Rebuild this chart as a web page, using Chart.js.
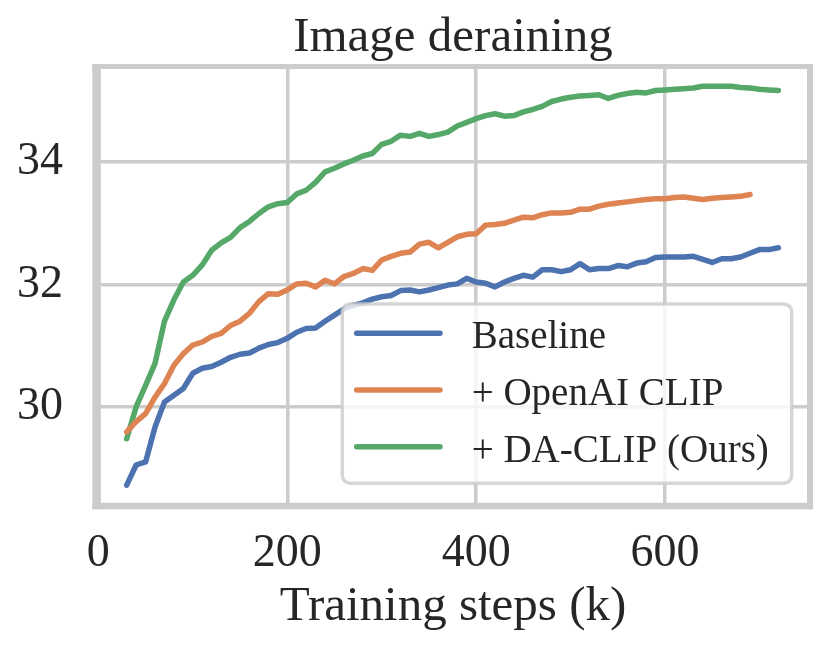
<!DOCTYPE html>
<html><head><meta charset="utf-8">
<script src="https://cdn.jsdelivr.net/npm/chart.js@4.4.1/dist/chart.umd.min.js"></script>
<style>html,body{margin:0;padding:0;background:#fff;} canvas{display:block}</style>
</head><body>
<canvas id="c" width="829" height="651"></canvas>
<script>
const steps = [30,40,50,60,70,80,90,100,110,120,130,140,150,160,170,180,190,200,210,220,230,240,250,260,270,280,290,300,310,320,330,340,350,360,370,380,390,400,410,420,430,440,450,460,470,480,490,500,510,520,530,540,550,560,570,580,590,600,610,620,630,640,650,660,670,680,690,700,710,720];
const baseline = [28.72,29.05,29.10,29.67,30.08,30.19,30.30,30.55,30.63,30.66,30.73,30.81,30.86,30.88,30.96,31.02,31.05,31.12,31.22,31.28,31.29,31.40,31.50,31.60,31.66,31.70,31.76,31.80,31.82,31.90,31.91,31.88,31.91,31.95,31.99,32.01,32.10,32.04,32.02,31.96,32.04,32.10,32.15,32.12,32.24,32.24,32.21,32.24,32.34,32.24,32.26,32.26,32.31,32.29,32.35,32.37,32.44,32.45,32.45,32.45,32.46,32.41,32.36,32.42,32.42,32.45,32.51,32.57,32.57,32.60];
const openaiClip = [29.59,29.76,29.89,30.16,30.38,30.68,30.87,31.01,31.06,31.15,31.20,31.33,31.40,31.53,31.72,31.85,31.84,31.91,32.01,32.02,31.96,32.07,32.01,32.13,32.18,32.26,32.23,32.40,32.46,32.51,32.53,32.66,32.69,32.60,32.69,32.78,32.82,32.83,32.97,32.98,33.00,33.05,33.10,33.09,33.14,33.17,33.17,33.18,33.23,33.23,33.28,33.31,33.33,33.35,33.37,33.39,33.40,33.40,33.42,33.43,33.41,33.39,33.41,33.42,33.43,33.44,33.47];
const daClip = [29.48,30.00,30.35,30.71,31.40,31.75,32.04,32.15,32.32,32.56,32.68,32.77,32.93,33.03,33.16,33.27,33.32,33.34,33.48,33.54,33.67,33.84,33.90,33.97,34.03,34.10,34.14,34.29,34.34,34.44,34.42,34.47,34.42,34.45,34.49,34.59,34.65,34.71,34.76,34.79,34.75,34.76,34.82,34.86,34.91,34.99,35.03,35.06,35.08,35.09,35.10,35.04,35.09,35.12,35.14,35.13,35.17,35.18,35.19,35.20,35.21,35.24,35.24,35.24,35.24,35.22,35.21,35.19,35.18,35.17];
const seriesLabels = ['Baseline', '+ OpenAI CLIP', '+ DA-CLIP (Ours)'];
const seriesColors = ['#4C72B0', '#DD8452', '#55A868'];
const xTicks = [0, 200, 400, 600];
const yTicks = [30, 32, 34];
const titleText = 'Image deraining';
const xTitle = 'Training steps (k)';

const FONT = "'Liberation Serif','Times New Roman',serif";
Chart.defaults.font.family = FONT;
Chart.defaults.color = '#262626';

function toPoints(vals) { return vals.map((v, i) => ({x: steps[i], y: v})); }
const seriesValues = [baseline, openaiClip, daClip];

const framePlugin = {
  id: 'frame',
  beforeDatasetsDraw(chart) {
    const {ctx, chartArea: a} = chart;
    ctx.save();
    ctx.fillStyle = '#cccccc';
    ctx.fillRect(a.left - 3.7, a.top - 2, 8.4, a.bottom - a.top + 5.3);   // left
    ctx.fillRect(a.left - 3.7, a.top - 2, a.right - a.left + 6.7, 5);     // top
    ctx.fillRect(a.left - 3.7, a.bottom - 3.3, a.right - a.left + 6.7, 6.6); // bottom
    ctx.fillRect(a.right - 3, a.top - 2, 6, a.bottom - a.top + 5.3);      // right
    ctx.restore();
  }
};

const legendPlugin = {
  id: 'boxLegend',
  afterDatasetsDraw(chart) {
    const {ctx, chartArea: a} = chart;
    const w = 449.4, h = 179.3;
    const x1 = a.right - 18.3, y1 = a.bottom - 22.7;
    const x0 = x1 - w, y0 = y1 - h;
    const r = 8;
    ctx.save();
    ctx.beginPath();
    ctx.moveTo(x0 + r, y0);
    ctx.lineTo(x1 - r, y0);
    ctx.arcTo(x1, y0, x1, y0 + r, r);
    ctx.lineTo(x1, y1 - r);
    ctx.arcTo(x1, y1, x1 - r, y1, r);
    ctx.lineTo(x0 + r, y1);
    ctx.arcTo(x0, y1, x0, y1 - r, r);
    ctx.lineTo(x0, y0 + r);
    ctx.arcTo(x0, y0, x0 + r, y0, r);
    ctx.closePath();
    ctx.fillStyle = 'rgba(255,255,255,0.8)';
    ctx.fill();
    ctx.strokeStyle = 'rgba(204,204,204,0.8)';
    ctx.lineWidth = 3.5;
    ctx.stroke();
    chart.data.datasets.forEach((ds, i) => {
      const cy = y0 + 29.3 + i * 56.7;
      ctx.beginPath();
      ctx.moveTo(x0 + 14.4, cy);
      ctx.lineTo(x0 + 97.7, cy);
      ctx.strokeStyle = ds.borderColor;
      ctx.lineWidth = 5.5;
      ctx.lineCap = 'round';
      ctx.stroke();
      ctx.fillStyle = '#262626';
      ctx.font = '39px ' + FONT;
      ctx.textBaseline = 'alphabetic';
      ctx.textAlign = 'left';
      ctx.fillText(ds.label, x0 + 129.4, y0 + 44.3 + i * 56.7);
    });
    ctx.restore();
  }
};

new Chart(document.getElementById('c').getContext('2d'), {
  type: 'line',
  data: {
    datasets: seriesValues.map((vals, i) => ({
      label: seriesLabels[i],
      data: toPoints(vals),
      borderColor: seriesColors[i],
      backgroundColor: seriesColors[i],
      borderWidth: 5.5,
      pointRadius: 0,
      tension: 0,
      borderJoinStyle: 'round',
      borderCapStyle: 'round',
      fill: false
    }))
  },
  options: {
    responsive: false,
    animation: false,
    devicePixelRatio: 1,
    layout: {padding: {left: 0, right: 19, top: 0, bottom: 0}},
    plugins: {
      legend: {display: false},
      tooltip: {enabled: false},
      title: {
        display: true, text: titleText, fullSize: false,
        font: {size: 49, weight: 'normal', lineHeight: 1.127}, color: '#262626',
        padding: {top: 10.4, bottom: 0.4}
      }
    },
    scales: {
      x: {
        type: 'linear', min: -2.5, max: 753.5,
        afterBuildTicks: s => { s.ticks = xTicks.map(v => ({value: v})); },
        afterFit: s => { s.height = 145; },
        grid: {color: '#cccccc', lineWidth: 3.5, drawTicks: false},
        border: {display: false},
        ticks: {font: {size: 46}, padding: 20, color: '#262626', maxRotation: 0, autoSkip: false},
        title: {display: true, text: xTitle, font: {size: 49}, color: '#262626', padding: {top: 0, bottom: 14.5}}
      },
      y: {
        type: 'linear', min: 28.38, max: 35.57,
        afterBuildTicks: s => { s.ticks = yTicks.map(v => ({value: v})); },
        afterFit: s => { s.width = 96; },
        grid: {color: '#cccccc', lineWidth: 3.5, drawTicks: false},
        border: {display: false},
        ticks: {font: {size: 46}, padding: 33, color: '#262626', autoSkip: false}
      }
    }
  },
  plugins: [framePlugin, legendPlugin]
});
</script>
</body></html>
